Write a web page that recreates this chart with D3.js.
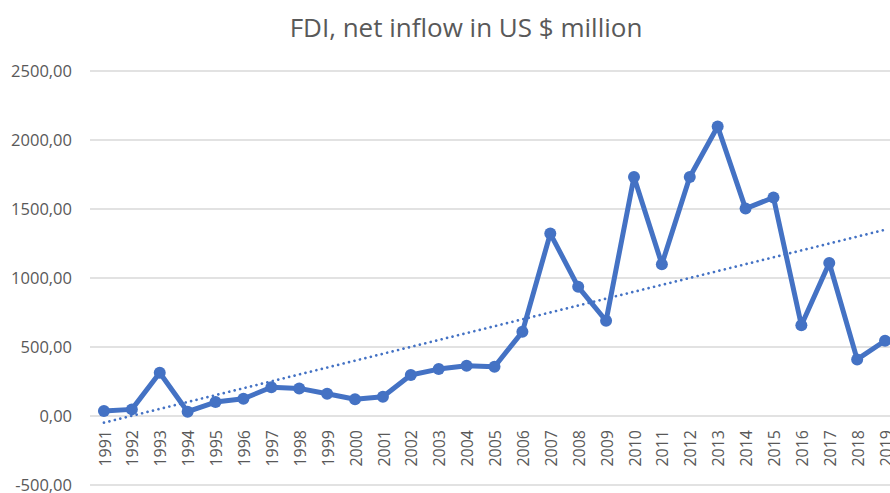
<!DOCTYPE html>
<html>
<head>
<meta charset="utf-8">
<script src="https://cdn.jsdelivr.net/npm/d3@7"></script>
<style>
  html, body { margin: 0; padding: 0; background: #fff; }
  svg { display: block; }
  text { font-family: "Open Sans", sans-serif; fill: #595959; }
</style>
</head>
<body>
<svg id="chart" width="890" height="493"></svg>
<script>
const title = "FDI, net inflow in US $ million";
const years = ["1991","1992","1993","1994","1995","1996","1997","1998","1999","2000",
  "2001","2002","2003","2004","2005","2006","2007","2008","2009","2010",
  "2011","2012","2013","2014","2015","2016","2017","2018","2019"];
const fdi = [36, 48, 313, 31, 101, 125, 208, 200, 161, 121,
  140, 297, 340, 364, 357, 610, 1322, 936, 690, 1732,
  1100, 1732, 2098, 1503, 1583, 658, 1109, 410, 545];
const yTicks = [-500, 0, 500, 1000, 1500, 2000, 2500];

const W = 890, H = 493;
const svg = d3.select("#chart");
const locale = d3.formatLocale({decimal: ",", thousands: "", grouping: [3], currency: ["", ""], minus: "-"});
const fmt = locale.format(".2f");

const x = d3.scaleBand().domain(years).range([90, 899]);
const y = d3.scaleLinear().domain([-500, 2500]).range([485, 71]);
const cx = d => x(d) + x.bandwidth() / 2;

// gridlines
svg.append("g").selectAll("line").data(yTicks).join("line")
  .attr("x1", 90).attr("x2", 899)
  .attr("y1", d => y(d)).attr("y2", d => y(d))
  .attr("stroke", "#d9d9d9").attr("stroke-width", 1.3);

// y axis labels
const yAxis = d3.axisLeft(y).tickValues(yTicks).tickFormat(fmt).tickSize(0).tickPadding(0);
const gy = svg.append("g").attr("transform", "translate(72,0)").call(yAxis);
gy.select(".domain").remove();
gy.selectAll("text").attr("font-size", 16.5).attr("font-family", "Open Sans, sans-serif").attr("fill", "#595959");

// x axis labels (rotated)
svg.append("g").selectAll("text").data(years).join("text")
  .attr("transform", d => `translate(${cx(d) + 1},430) rotate(-90)`)
  .attr("text-anchor", "end")
  .attr("dy", "0.35em")
  .attr("font-size", 16)
  .text(d => d);

// trendline (least squares)
const n = fdi.length;
const xs = d3.range(n);
const mx = d3.mean(xs), my = d3.mean(fdi);
const slope = d3.sum(xs, i => (i - mx) * (fdi[i] - my)) / d3.sum(xs, i => (i - mx) ** 2);
const intercept = my - slope * mx;
svg.append("line")
  .attr("x1", cx(years[0])).attr("y1", y(intercept))
  .attr("x2", cx(years[n - 1])).attr("y2", y(intercept + slope * (n - 1)))
  .attr("stroke", "#4472C4").attr("stroke-width", 2.7)
  .attr("stroke-linecap", "round").attr("stroke-dasharray", "0.01 5.6");

// line
const line = d3.line().x((d, i) => cx(years[i])).y(d => y(d));
svg.append("path").datum(fdi)
  .attr("d", line).attr("fill", "none")
  .attr("stroke", "#4472C4").attr("stroke-width", 5)
  .attr("stroke-linejoin", "round");

svg.append("g").selectAll("circle").data(fdi).join("circle")
  .attr("cx", (d, i) => cx(years[i])).attr("cy", d => y(d))
  .attr("r", 6).attr("fill", "#4472C4");

// title
svg.append("text").attr("x", 466).attr("y", 37)
  .attr("text-anchor", "middle").attr("font-size", 26)
  .text(title);
</script>
</body>
</html>
